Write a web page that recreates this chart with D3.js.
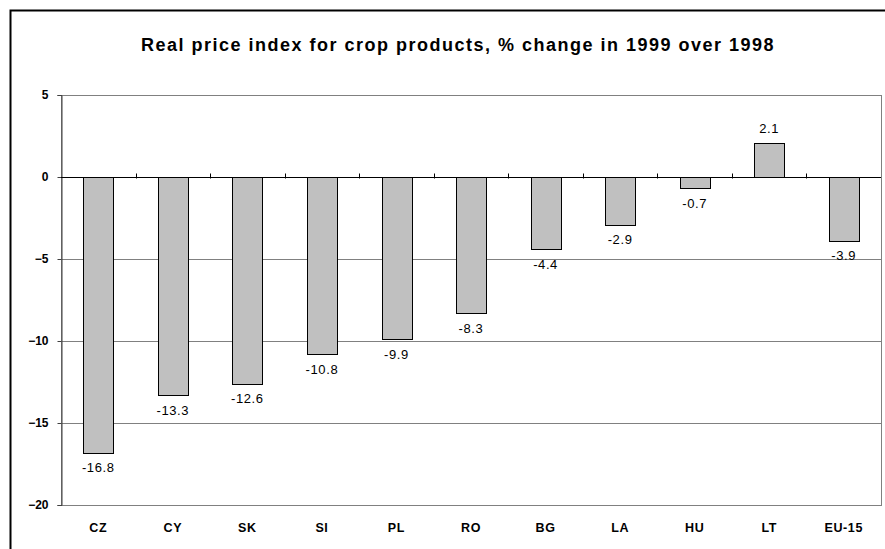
<!DOCTYPE html>
<html>
<head>
<meta charset="utf-8">
<script src="https://cdn.jsdelivr.net/npm/d3@7"></script>
<style>
    body { margin: 0; background: #fff; }
    text { font-family: "Liberation Sans", Arial, sans-serif; }
</style>
</head>
<body>
<div id="chart"></div>
<script>
// chart data
var countries = ['CZ', 'CY', 'SK', 'SI', 'PL', 'RO', 'BG', 'LA', 'HU', 'LT', 'EU-15'];
var changes = [-16.8, -13.3, -12.6, -10.8, -9.9, -8.3, -4.4, -2.9, -0.7, 2.1, -3.9];
var yTicks = [5, 0, -5, -10, -15, -20];
var title = 'Real price index for crop products, % change in 1999 over 1998';

var width = 885, height = 549;
var margin = {top: 95, right: 4, bottom: 44, left: 61};

var svg = d3.select('#chart').append('svg')
    .attr('width', width)
    .attr('height', height);

// outer frame (runs off the right and bottom edges)
svg.append('path')
    .attr('d', 'M10.5,' + (height + 5) + 'V10.5H' + (width + 5))
    .attr('fill', 'none')
    .attr('stroke', '#000')
    .attr('stroke-width', 2);

svg.append('text')
    .attr('x', 458)
    .attr('y', 51)
    .attr('text-anchor', 'middle')
    .attr('font-size', 18)
    .attr('font-weight', 'bold')
    .attr('letter-spacing', 1.5)
    .text(title);

var x = d3.scaleBand()
    .domain(countries)
    .range([margin.left, width - margin.right])
    .paddingInner(0.6)
    .paddingOuter(0.3);

var y = d3.scaleLinear()
    .domain([-20, 5])
    .range([height - margin.bottom, margin.top]);

// plot area border + gridlines
svg.append('rect')
    .attr('x', margin.left + 0.5)
    .attr('y', y(5) + 0.5)
    .attr('width', width - margin.right - margin.left)
    .attr('height', y(-20) - y(5))
    .attr('fill', 'none')
    .attr('stroke', '#808080');

svg.selectAll('.grid').data(yTicks.filter(function(d) { return d !== 0; }))
    .enter().append('line')
    .attr('x1', margin.left)
    .attr('x2', width - margin.right)
    .attr('y1', function(d) { return Math.round(y(d)) + 0.5; })
    .attr('y2', function(d) { return Math.round(y(d)) + 0.5; })
    .attr('stroke', '#808080');

// bars
svg.selectAll('.bar').data(changes)
    .enter().append('rect')
    .attr('x', function(d, i) { return Math.round(x(countries[i])) + 0.5; })
    .attr('y', function(d) { return Math.round(y(Math.max(0, d))) + 0.5; })
    .attr('width', Math.round(x.bandwidth()))
    .attr('height', function(d) { return Math.round(Math.abs(y(d) - y(0))); })
    .attr('fill', '#c0c0c0')
    .attr('stroke', '#000');

// y axis
var yAxis = svg.append('g')
    .attr('transform', 'translate(' + (margin.left + 0.5) + ',0)')
    .call(d3.axisLeft(y).tickValues(yTicks).tickSize(4).tickPadding(9).tickFormat(d3.format('d')));
yAxis.select('.domain').attr('stroke', '#404040');
yAxis.selectAll('.tick line').attr('stroke', '#404040');
yAxis.selectAll('text')
    .attr('font-size', 12)
    .attr('font-weight', 'bold')
    .attr('fill', '#000')
    .style('font-family', '"Liberation Sans", Arial, sans-serif');

// zero line with category dividers
var step = x.step();
var zeroY = Math.round(y(0)) + 0.5;
svg.append('line')
    .attr('x1', margin.left)
    .attr('x2', width - margin.right)
    .attr('y1', zeroY)
    .attr('y2', zeroY)
    .attr('stroke', '#000');

svg.selectAll('.divider').data(countries.slice(1))
    .enter().append('line')
    .attr('x1', function(d) { return Math.round(x(d) - step * 0.3) + 0.5; })
    .attr('x2', function(d) { return Math.round(x(d) - step * 0.3) + 0.5; })
    .attr('y1', zeroY - 4)
    .attr('y2', zeroY + 1)
    .attr('stroke', '#000');

// category labels
svg.selectAll('.cat').data(countries)
    .enter().append('text')
    .attr('x', function(d) { return x(d) + x.bandwidth() / 2; })
    .attr('y', 532)
    .attr('text-anchor', 'middle')
    .attr('font-size', 12.5)
    .attr('font-weight', 'bold')
    .attr('letter-spacing', 0.6)
    .text(function(d) { return d; });

// value labels
svg.selectAll('.val').data(changes)
    .enter().append('text')
    .attr('x', function(d, i) { return x(countries[i]) + x.bandwidth() / 2; })
    .attr('y', function(d) { return d < 0 ? y(d) + 19.5 : y(d) - 10; })
    .attr('text-anchor', 'middle')
    .attr('font-size', 13)
    .attr('letter-spacing', 0.6)
    .text(function(d) { return d; });
</script>
</body>
</html>
